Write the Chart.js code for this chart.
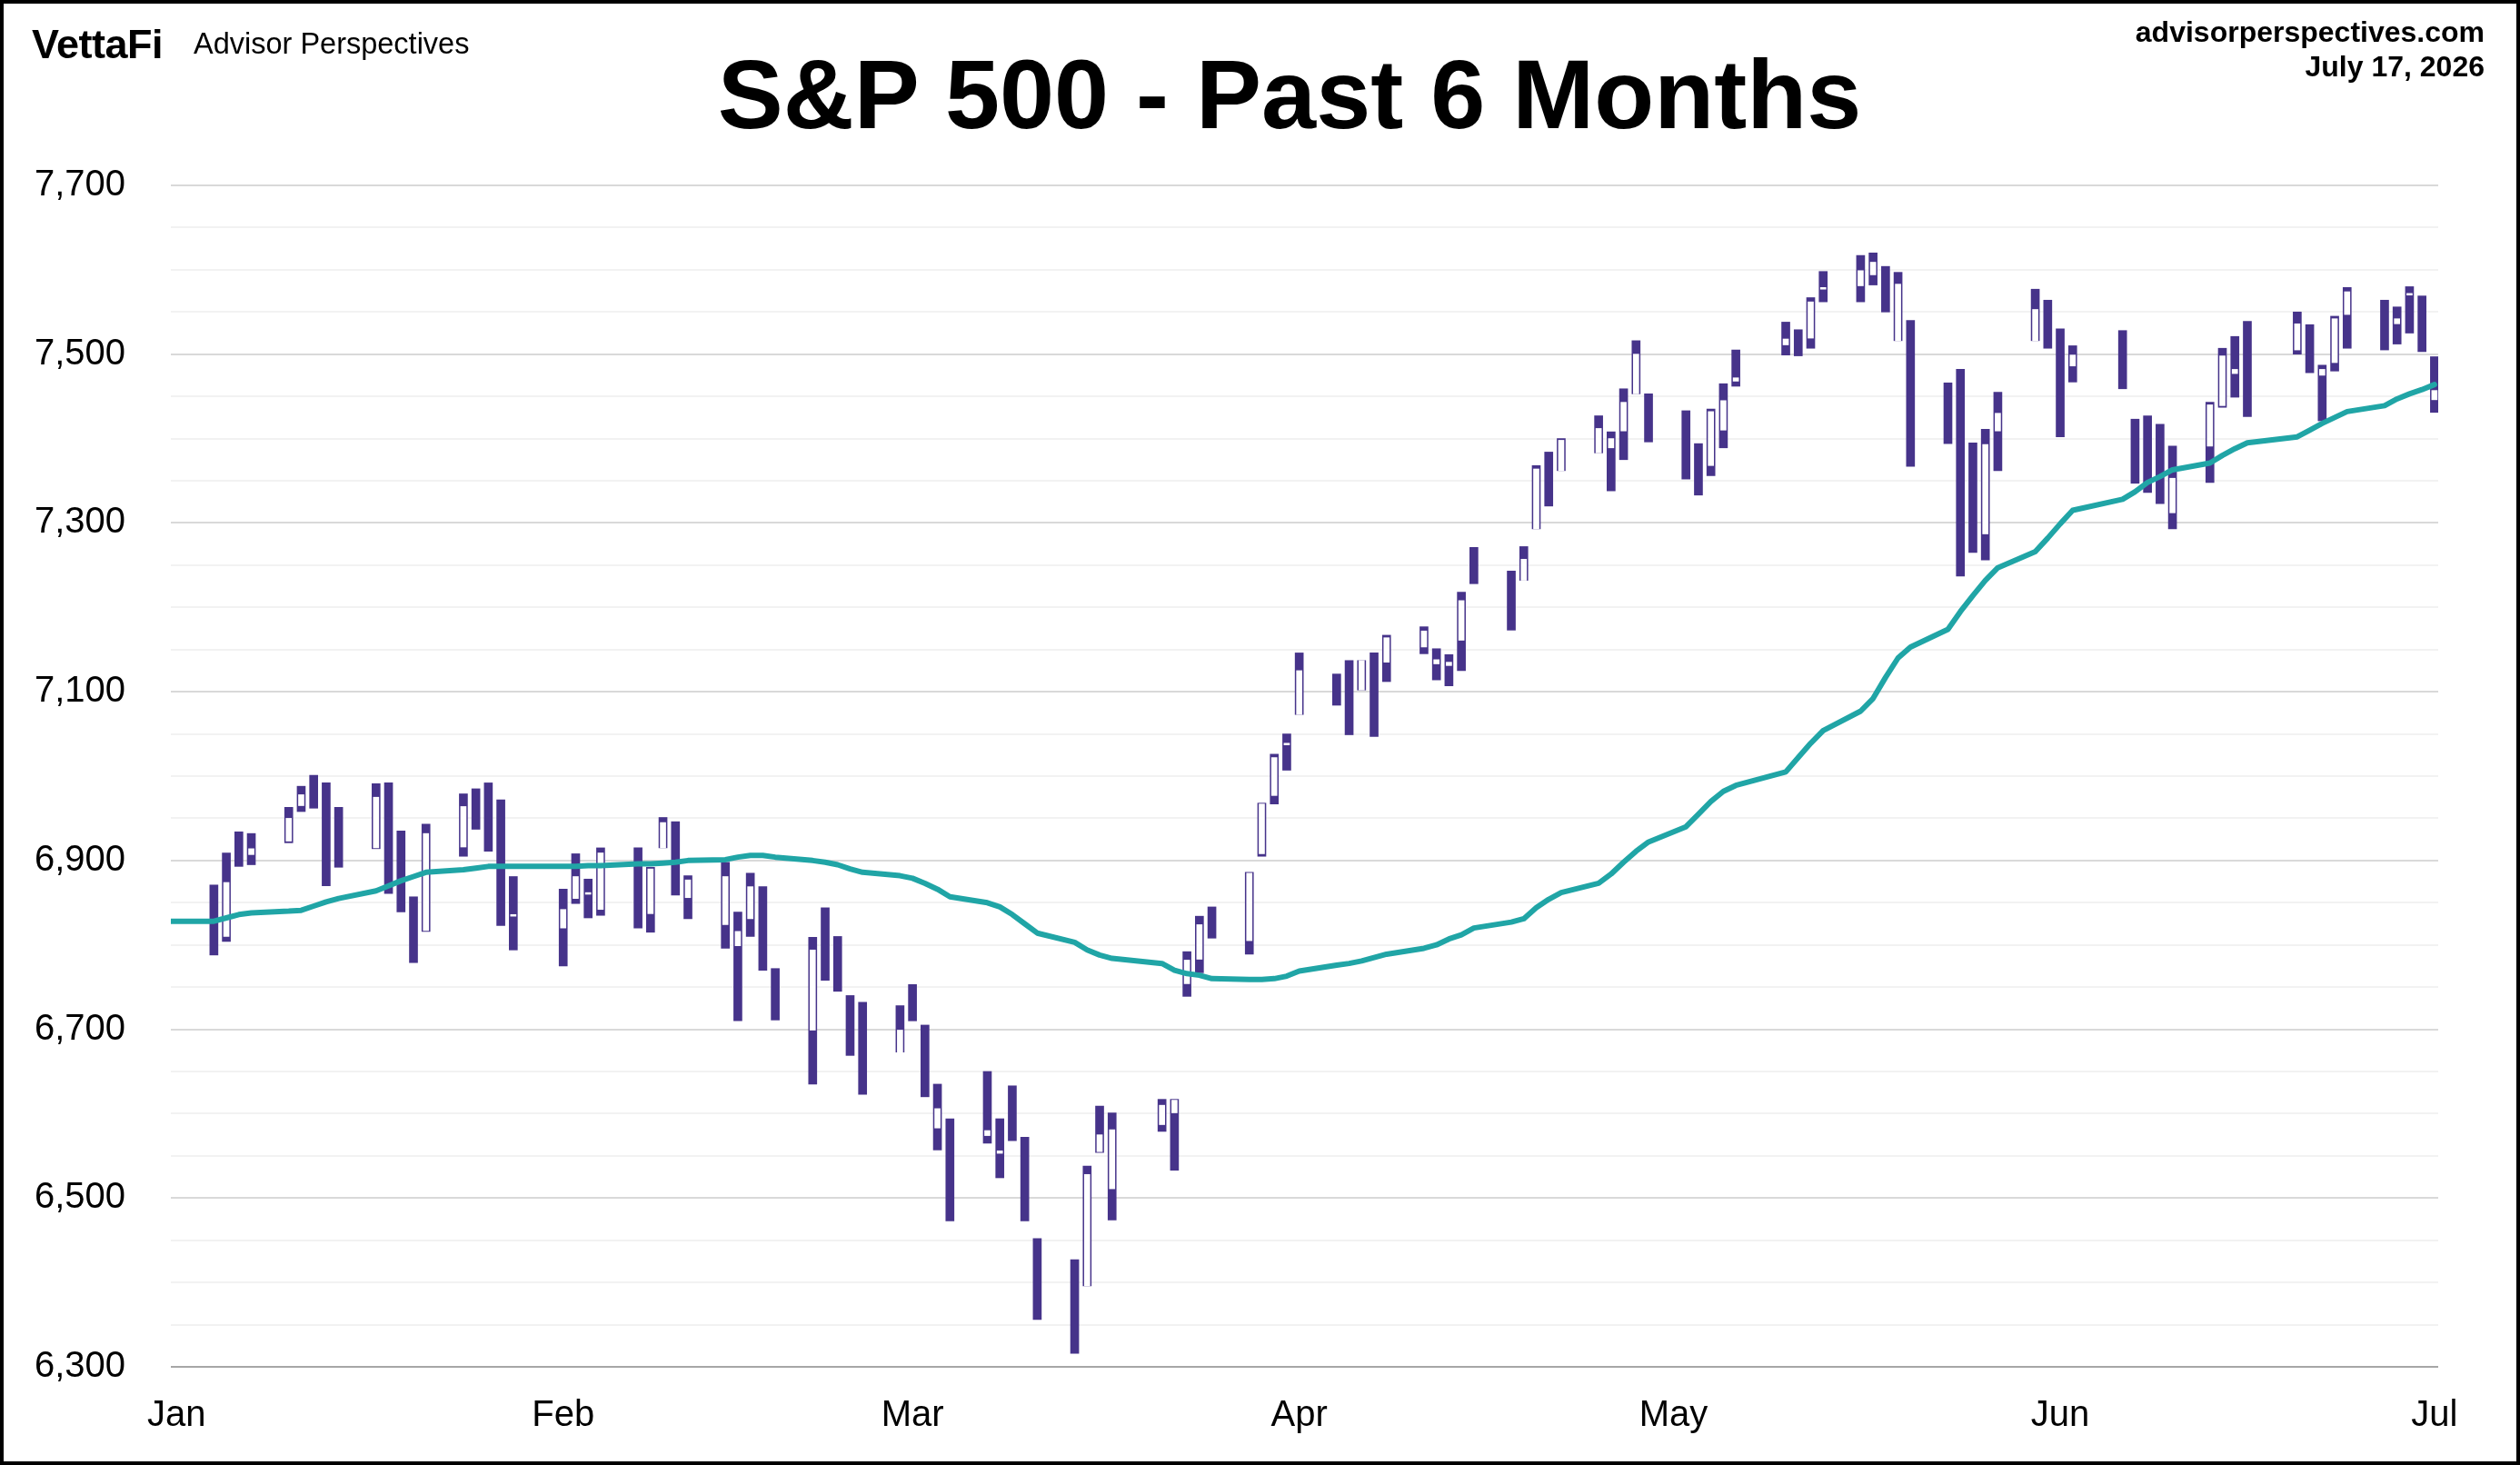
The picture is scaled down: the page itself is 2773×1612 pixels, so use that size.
<!DOCTYPE html>
<html>
<head>
<meta charset="utf-8">
<title>S&amp;P 500 - Past 6 Months</title>
<script src="https://cdn.jsdelivr.net/npm/chart.js@4.4.1/dist/chart.umd.min.js"></script>
<style>
  html, body { margin: 0; padding: 0; background: #fff; }
  #wrap { position: relative; width: 2773px; height: 1612px; overflow: hidden;
          font-family: "Liberation Sans", Arial, sans-serif; color: #000; }
  #chart { position: absolute; left: 0; top: 0; }
  #frame { position: absolute; left: 0; top: 0; right: 0; bottom: 0;
           border: 4px solid #000; pointer-events: none; }
  .hdr { position: absolute; white-space: nowrap; line-height: 1; }
  #logo { left: 35px; top: 26px; font-size: 45px; font-weight: bold; letter-spacing: -0.5px; }
  #brand { left: 213px; top: 32px; font-size: 32.5px; }
  #title { left: 1419px; top: 50px; transform: translateX(-50%); font-size: 108px; font-weight: bold; }
  #site { right: 39px; top: 19px; font-size: 32px; font-weight: bold; text-align: right; }
  #date { right: 39px; top: 57px; font-size: 32px; font-weight: bold; text-align: right; }
</style>
</head>
<body>
<div id="wrap">
  <canvas id="chart" width="2773" height="1612"></canvas>
  <div class="hdr" id="logo">VettaFi</div>
  <div class="hdr" id="brand">Advisor Perspectives</div>
  <div class="hdr" id="title">S&amp;P 500 - Past 6 Months</div>
  <div class="hdr" id="site">advisorperspectives.com</div>
  <div class="hdr" id="date">July 17, 2026</div>
  <div id="frame"></div>
</div>
<script>
// Trading days, counted in days from Jan 1
const days = [3,4,5,6, 9,10,11,12,13, 16,17,18,19,20, 23,24,25,26,27,
  31,32,33,34, 37,38,39,40,41, 44,45,46,47,48, 51,52,53,54,55, 58,59,60,61,62,
  65,66,67,68,69, 72,73,74,75, 79,80,81,82,83, 86,87,88,89,90, 93,94,95,96,97,
  100,101,102,103,104, 107,108,109,110,111, 114,115,116,117,118, 121,122,123,124,125,
  129,130,131,132, 135,136,137,138,139, 142,143,144,145,146, 149,150,151,152,
  156,157,158,159,160, 163,164,165,166, 170,171,172,173,174, 177,178,179,180,181];

const highs = [6871,6909,6934,6932, 6963,6988,7001,6992,6963, 6991,6992,6935,6857,6943, 6979,6985,6992,6972,6881,
  6866,6908,6878,6915, 6915,6892,6951,6946,6882, 6898,6839,6885,6869,6772, 6809,6844,6810,6740,6732, 6728,6753,6705,6635,6594,
  6650,6594,6633,6572,6452, 6427,6538,6609,6601, 6617,6617,6792,6834,6845, 6886,6968,7026,7050,7146, 7121,7137,7137,7146,7167,
  7177,7151,7144,7218,7271, 7243,7272,7368,7384,7400, 7427,7408,7459,7516,7453, 7433,7394,7435,7465,7505,
  7538,7529,7567,7598, 7617,7620,7604,7597,7540, 7466,7482,7395,7411,7455, 7577,7564,7530,7510,
  7528,7423,7427,7417,7391, 7443,7507,7521,7539, 7550,7535,7487,7545,7579, 7564,7556,7580,7569,7497];

const lows = [6788,6804,6893,6895, 6921,6958,6962,6870,6892, 6914,6861,6839,6779,6816, 6905,6937,6911,6823,6794,
  6775,6849,6832,6835, 6820,6815,6915,6859,6831, 6796,6710,6810,6770,6711, 6635,6758,6745,6669,6623, 6673,6710,6620,6557,6473,
  6565,6524,6568,6473,6356, 6316,6396,6554,6474, 6579,6533,6739,6767,6808, 6789,6905,6967,7007,7073, 7084,7049,7102,7047,7112,
  7145,7114,7107,7125,7228, 7173,7232,7293,7320,7362, 7383,7338,7375,7453,7396, 7352,7333,7356,7389,7462,
  7499,7498,7507,7562, 7562,7582,7550,7516,7367, 7394,7237,7265,7256,7362, 7516,7507,7402,7467,
  7459,7347,7336,7323,7293, 7348,7437,7449,7426, 7500,7478,7421,7480,7507, 7505,7512,7525,7503,7431];

// Hollow (up-day) bodies: top and bottom of the open/close range, null on down days
const hollowTop = [null,6874,null,6914, 6950,6978,null,null,null, 6975,null,null,null,6932, 6964,null,null,null,6836,
  6842,6881,6862,6909, null,6890,6945,null,6877, 6881,6816,6869,null,null, 6794,null,null,null,null, 6699,null,null,6606,null,
  6580,6556,null,null,null, null,6528,6575,6581, 6610,6616,6782,6824,null, 6885,6967,7022,7039,7125, null,null,7137,null,7164,
  7172,7138,7135,7208,null, null,7257,7364,null,7398, 7412,7400,7443,7500,null, null,null,7432,7445,7472,
  7518,null,7562,7579, 7599,7609,null,7583,null, null,null,null,7393,7430, 7553,null,null,7499,
  null,null,null,null,7353, 7440,7498,7482,null, 7536,null,7482,7542,7574, null,7542,7572,null,7457];

const hollowBottom = [null,6810,null,6907, 6923,6965,null,null,null, 6915,null,null,null,6817, 6916,null,null,null,6834,
  6820,6855,6860,6842, null,6837,6915,null,6856, 6824,6799,6831,null,null, 6699,null,null,null,null, 6673,null,null,6583,null,
  6574,6553,null,null,null, null,6396,6555,6511, 6587,6601,6754,6783,null, 6805,6908,6977,7037,7073, null,null,7102,null,7135,
  7153,7133,7131,7161,null, null,7232,7293,null,7362, 7383,7389,7409,7453,null, null,null,7368,7410,7468,
  7511,null,7519,7577, 7581,7594,null,7516,null, null,null,null,7287,7409, 7516,null,null,7486,
  null,null,null,null,7312, 7391,7439,7477,null, 7505,null,7475,7490,7547, null,7536,7570,null,7446];

// Moving average, one value per trading day, plus the prior session
const maPriorDay = -1;
const maPriorValue = 6828;
const maValues = [6828,6832,6836,6838, 6840,6841,6846,6851,6855, 6864,6870,6876,6881,6886, 6889,6891,6893,6893,6893,
  6893,6893,6894,6894, 6896,6896,6897,6898,6900, 6901,6904,6906,6906,6904, 6900,6898,6895,6890,6886, 6882,6879,6873,6866,6857,
  6850,6845,6836,6825,6814, 6803,6794,6788,6784, 6778,6770,6766,6764,6760, 6759,6759,6760,6763,6769, 6776,6778,6781,6785,6789,
  6796,6800,6807,6812,6820, 6827,6831,6844,6854,6862, 6873,6884,6898,6911,6922, 6940,6955,6970,6982,6989,
  7005,7022,7039,7054, 7077,7092,7117,7140,7153, 7174,7195,7214,7232,7247, 7266,7282,7299,7315,
  7328,7337,7348,7355,7363, 7371,7380,7388,7395, 7402,7410,7418,7425,7432, 7439,7447,7453,7458,7464];

// Axis ticks
const monthStartDays = [0, 31, 59, 90, 120, 151, 181];
const monthLabels = ['Jan', 'Feb', 'Mar', 'Apr', 'May', 'Jun', 'Jul'];
const yMin = 6300, yMax = 7700, yStep = 50, yLabelStep = 200;

const PURPLE = '#46338a';
const TEAL = '#20a5a6';
const FONT = '"Liberation Sans", Arial, sans-serif';

const rangeData = days.map((d, i) => ({ x: d, y: [lows[i], highs[i]] }));
const bodyData = [];
days.forEach((d, i) => {
  if (hollowTop[i] !== null) bodyData.push({ x: d, y: [hollowBottom[i], hollowTop[i]] });
});
const maData = [{ x: maPriorDay, y: maPriorValue }].concat(days.map((d, i) => ({ x: d, y: maValues[i] })));

const ctx = document.getElementById('chart').getContext('2d');
const chart = new Chart(ctx, {
  data: {
    datasets: [
      {
        type: 'line', label: 'Moving average', data: maData,
        borderColor: TEAL, borderWidth: 6, pointRadius: 0, tension: 0,
        borderJoinStyle: 'round', borderCapStyle: 'round', clip: 0, order: 0
      },
      {
        type: 'bar', label: 'Up body', data: bodyData,
        backgroundColor: '#ffffff', barThickness: 6, grouped: false, order: 1
      },
      {
        type: 'bar', label: 'Range', data: rangeData,
        backgroundColor: PURPLE, barThickness: 9, grouped: false, order: 2
      }
    ]
  },
  options: {
    responsive: false,
    devicePixelRatio: 1,
    animation: false,
    layout: { padding: { top: 204, right: 90, left: 0, bottom: 0 } },
    plugins: { legend: { display: false }, tooltip: { enabled: false } },
    scales: {
      x: {
        type: 'linear', min: -0.45, max: 181.3, offset: false,
        grid: { display: false, drawTicks: false },
        border: { display: false },
        afterBuildTicks: (axis) => { axis.ticks = monthStartDays.map(v => ({ value: v })); },
        afterFit: (axis) => { axis.height = 108; },
        ticks: {
          autoSkip: false, maxRotation: 0, padding: 30, color: '#000',
          font: { family: FONT, size: 40 },
          callback: (v, i) => monthLabels[i]
        }
      },
      y: {
        min: yMin, max: yMax,
        afterFit: (axis) => { axis.width = 188; },
        border: { display: false },
        grid: {
          drawTicks: false, lineWidth: 2,
          color: (c) => {
            const v = c.tick.value;
            if (v === yMin) return '#a6a6a6';
            return (v - yMin) % yLabelStep === 0 ? '#d9d9d9' : '#f2f2f2';
          }
        },
        ticks: {
          stepSize: yStep, autoSkip: false, padding: 50, color: '#000',
          font: { family: FONT, size: 40 },
          callback: (v) => (v - yMin) % yLabelStep === 0 ? v.toLocaleString('en-US') : ''
        }
      }
    }
  }
});
</script>
</body>
</html>
